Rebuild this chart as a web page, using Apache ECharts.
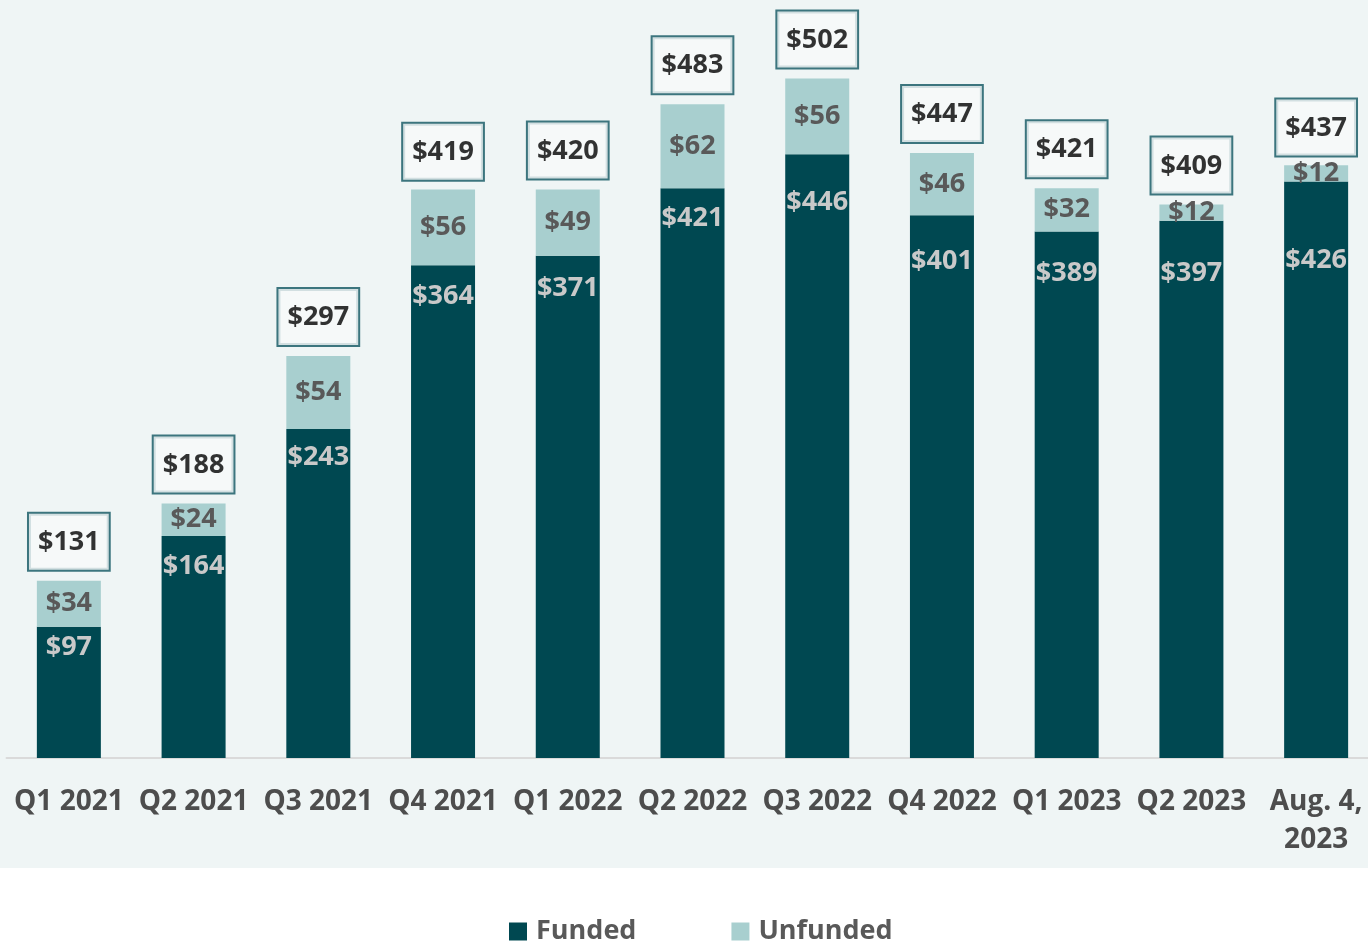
<!DOCTYPE html>
<html>
<head>
<meta charset="utf-8">
<script src="https://cdn.jsdelivr.net/npm/echarts@6/dist/echarts.min.js"></script>
<style>
  html, body { margin: 0; padding: 0; background: #fff; }
  #container { width: 1368px; height: 943px; }
</style>
</head>
<body>
<div id="container"></div>
<script>
var categories = ['Q1 2021', 'Q2 2021', 'Q3 2021', 'Q4 2021', 'Q1 2022', 'Q2 2022',
  'Q3 2022', 'Q4 2022', 'Q1 2023', 'Q2 2023', 'Aug. 4,\n2023'];
var funded = [97, 164, 243, 364, 371, 421, 446, 401, 389, 397, 426];
var unfunded = [34, 24, 54, 56, 49, 62, 56, 46, 32, 12, 12];
var totals = [131, 188, 297, 419, 420, 483, 502, 447, 421, 409, 437];

// how far below the bar top each funded label sits (as in the slide)
var fundedLabelDrop = [7, 17, 15, 18, 19, 17, 35, 33, 28, 39, 65];

var FONT = '"Open Sans", Lato, sans-serif';
var DARK = '#004851';
var LIGHT = '#a8cfcf';

var dom = document.getElementById('container');
var myChart = echarts.init(dom);

var fundedData = funded.map(function(v, i) {
  return {
    value: v,
    label: { distance: fundedLabelDrop[i] }
  };
});

var option = {
  backgroundColor: '#fff',
  animation: false,
  graphic: [{
    type: 'rect',
    z: -10,
    silent: true,
    shape: { x: 0, y: 0, width: 1368, height: 868 },
    style: { fill: '#eff5f5' }
  }],
  grid: { left: 6.5, width: 1372, top: 0, bottom: 185, outerBoundsMode: 'none', containLabel: false },
  legend: {
    data: ['Funded', 'Unfunded'],
    left: 509,
    top: 918,
    padding: 0,
    icon: 'rect',
    itemWidth: 18,
    itemHeight: 18,
    itemGap: 95,
    textStyle: {
      fontFamily: FONT,
      fontWeight: 'bold',
      fontSize: 27,
      color: '#595959',
      padding: [0, 0, 0, 4]
    }
  },
  xAxis: {
    type: 'category',
    data: categories,
    axisLine: { lineStyle: { color: '#dadada', width: 2 } },
    axisTick: { show: false },
    axisLabel: {
      interval: 0,
      margin: 25,
      fontFamily: FONT,
      fontWeight: 'bold',
      fontSize: 28,
      lineHeight: 38,
      color: '#4d4d4d'
    }
  },
  yAxis: {
    type: 'value',
    min: 0,
    max: 560,
    show: false,
    splitLine: { show: false }
  },
  series: [{
    name: 'Funded',
    type: 'bar',
    stack: 'total',
    barWidth: 64,
    data: fundedData,
    itemStyle: { color: DARK },
    label: {
      show: true,
      position: 'insideTop',
      formatter: '${c}',
      fontFamily: FONT,
      fontWeight: 'bold',
      fontSize: 27,
      color: '#c9c9c9'
    }
  }, {
    name: 'Unfunded',
    type: 'bar',
    stack: 'total',
    barWidth: 64,
    data: unfunded,
    itemStyle: { color: LIGHT },
    label: {
      show: true,
      position: 'inside',
      formatter: '${c}',
      fontFamily: FONT,
      fontWeight: 'bold',
      fontSize: 27,
      color: '#595959'
    }
  }, {
    name: 'Total',
    type: 'scatter',
    data: totals,
    symbolSize: 0,
    silent: true,
    label: {
      show: true,
      position: 'top',
      distance: 11,
      formatter: '${c}',
      fontFamily: FONT,
      fontWeight: 'bold',
      fontSize: 27,
      color: '#000',
      backgroundColor: '#f7fafa',
      borderColor: '#0f5560',
      borderWidth: 2,
      padding: [15, 9, 14, 9]
    }
  }]
};

myChart.setOption(option);
</script>
</body>
</html>
